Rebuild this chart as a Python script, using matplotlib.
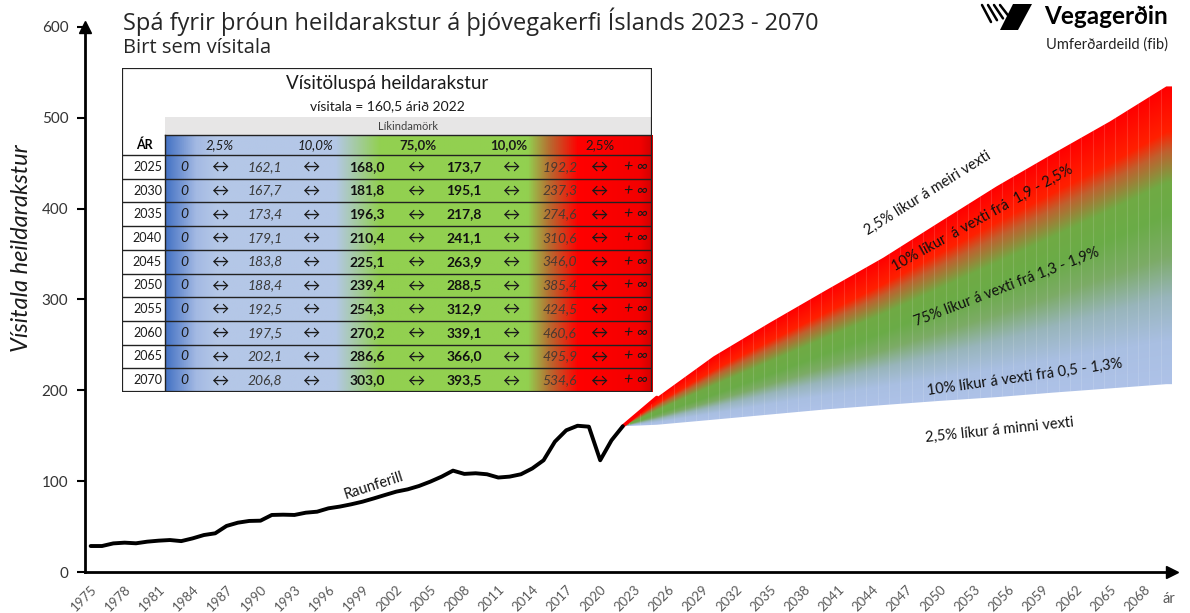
import numpy as np
import matplotlib
matplotlib.use('Agg')
import matplotlib.pyplot as plt
from matplotlib.colors import LinearSegmentedColormap, to_rgb
from matplotlib.patches import Rectangle, Polygon

plt.rcParams['font.family'] = ['Lato', 'DejaVu Sans']

# raunferill 1975-2022
hist_years = list(range(1975, 2023))
hist = [28.6, 28.6, 31.5, 32.3, 31.6, 33.4, 34.5, 35.2, 34.0, 37.0,
        40.7, 42.6, 50.7, 54.3, 56.2, 56.5, 62.8, 63.1, 62.8, 65.3,
        66.4, 70.1, 72.0, 74.5, 77.4, 81.0, 84.8, 88.5, 91.0, 94.7,
        99.5, 105.0, 111.6, 108.0, 108.7, 107.6, 104.0, 105.0, 107.6, 114.0,
        123.0, 143.5, 156.0, 161.0, 160.0, 123.0, 145.0, 160.5]

# spá (vísitöluspá heildarakstur)
base_year = 2022
base_val = 160.5
tbl_years = [2025, 2030, 2035, 2040, 2045, 2050, 2055, 2060, 2065, 2070]
q1 = [162.1, 167.7, 173.4, 179.1, 183.8, 188.4, 192.5, 197.5, 202.1, 206.8]
q2 = [168.0, 181.8, 196.3, 210.4, 225.1, 239.4, 254.3, 270.2, 286.6, 303.0]
q3 = [173.7, 195.1, 217.8, 241.1, 263.9, 288.5, 312.9, 339.1, 366.0, 393.5]
q4 = [192.2, 237.3, 274.6, 310.6, 346.0, 385.4, 424.5, 460.6, 495.9, 534.6]
band_labels = ['2,5%', '10,0%', '75,0%', '10,0%', '2,5%']

W, H = 1190, 613
fig = plt.figure(figsize=(W / 100, H / 100), dpi=100)
ax = fig.add_axes([85 / W, 1 - 572 / H, (1172 - 85) / W, (572 - 27) / H])

ax.set_xlim(1974.5, 2070.5)
ax.set_ylim(0, 600)

# --- fan ---
fx = np.array([base_year] + tbl_years + [2070.5])
lo = np.array([base_val] + q1 + [q1[-1]])
m1 = np.array([base_val] + q2 + [q2[-1]])
m2 = np.array([base_val] + q3 + [q3[-1]])
hi = np.array([base_val] + q4 + [q4[-1]])

gx = np.linspace(base_year, 2070.5, 600)
gy = np.linspace(150, 545, 500)
stop_cols = np.array([to_rgb(c) for c in
                      ['#aec2e8', '#a9bfe2', '#98b5bb', '#7cab66', '#6aac47',
                       '#70aa44', '#c0602e', '#ff2000', '#ff0000']])
img = np.ones((len(gy), len(gx), 3))
for j, xv in enumerate(gx):
    a, b, c, d = (np.interp(xv, fx, arr) for arr in (lo, m1, m2, hi))
    stops = np.array([a, a + 0.5 * (b - a), b, b + 0.5 * (c - b), c,
                      c + 0.25 * (d - c), c + 0.5 * (d - c), c + 0.65 * (d - c), d])
    stops = stops + np.arange(len(stops)) * 1e-4
    for k in range(3):
        img[:, j, k] = np.interp(gy, stops, stop_cols[:, k])
fan = Polygon(np.column_stack([np.r_[fx, fx[::-1]], np.r_[hi, lo[::-1]]]),
              closed=True, facecolor='none', edgecolor='none')
ax.add_patch(fan)
im = ax.imshow(img, extent=(gx[0], gx[-1], gy[0], gy[-1]), origin='lower',
               aspect='auto', interpolation='bilinear', zorder=1)
im.set_clip_path(fan)
bars = ax.vlines(np.arange(base_year + 1, 2071) - 0.5, 0, 600, color='white',
                 lw=0.8, alpha=0.13, zorder=2)
bars.set_clip_path(fan)
ax.plot(fx[:2], hi[:2], color='#ff0000', lw=2.5, solid_capstyle='round', zorder=3)

ax.plot(hist_years, hist, color='black', lw=2.8, solid_joinstyle='round',
        solid_capstyle='round', zorder=4)

# --- axes ---
for s in ('top', 'right'):
    ax.spines[s].set_visible(False)
for s in ('left', 'bottom'):
    ax.spines[s].set_linewidth(2)
    ax.spines[s].set_color('black')
ax.set_yticks(range(0, 601, 100))
ax.tick_params(axis='y', length=6, width=1.5, labelsize=11, labelcolor='#333333', pad=6)
xt = list(range(1975, 2069, 3))
ax.set_xticks(xt)
ax.set_xticklabels([str(y) for y in xt], rotation=45, ha='right', va='top',
                   rotation_mode='anchor', fontsize=9.5, color='#595959')
ax.tick_params(axis='x', length=0, pad=8)
ax.plot(0, 1, marker='^', color='black', ms=8, transform=ax.transAxes, clip_on=False)
ax.plot(1, 0, marker='>', color='black', ms=8, transform=ax.transAxes, clip_on=False)
ax.text(2070.2, -22, 'ár', fontsize=10.5, color='#595959', ha='center', va='top')
fig.text(22 / W, 1 - 248 / H, 'Vísitala heildarakstur', rotation=90, style='italic',
         fontsize=17, ha='center', va='center', color='#1a1a1a')

# fan annotations
notes = [
    ('2,5% líkur á meiri vexti', 2048.9, 417, 32),
    ('10% líkur  á vexti frá  1,9 - 2,5%', 2053.8, 390, 29),
    ('75% líkur á vexti frá 1,3 - 1,9%', 2055.9, 314, 21),
    ('10% líkur á vexti frá 0,5 - 1,3%', 2057.5, 214, 8),
    ('2,5% líkur á minni vexti', 2055.3, 156, 6),
    ('Raunferill', 2000.0, 95, 18),
]
for txt, x, y, r in notes:
    ax.text(x, y, txt, rotation=r, ha='center', va='center', fontsize=10.5,
            color='#111111', rotation_mode='anchor', zorder=5)

# --- titles / logo ---
fig.text(123 / W, 1 - 22 / H, 'Spá fyrir þróun heildarakstur á þjóvegakerfi Íslands 2023 - 2070',
         fontsize=17, va='center', ha='left', color='#262626', family=['Open Sans', 'DejaVu Sans'])
fig.text(123 / W, 1 - 48 / H, 'Birt sem vísitala', fontsize=14.5, va='center',
         ha='left', color='#262626', family=['Open Sans', 'DejaVu Sans'])
fig.text(1168 / W, 1 - 17 / H, 'Vegagerðin', fontsize=17.5, fontweight='bold',
         ha='right', va='center', color='black')
fig.text(1168 / W, 1 - 45 / H, 'Umferðardeild (fib)', fontsize=10.5, ha='right',
         va='center', color='#222222')
lax = fig.add_axes([975 / W, 1 - 32 / H, 60 / W, 30 / H])
lax.set_xlim(975, 1035)
lax.set_ylim(32, 2)
lax.axis('off')
lax.add_patch(Polygon([(1013, 4), (1032, 4), (1018, 30), (1000, 30)], closed=True,
                      facecolor='black', edgecolor='none'))
for x0 in (982, 988, 994, 1000):
    lax.plot([x0, x0 + 9], [5, 22 - (x0 - 982) * 0.3], color='black', lw=1.8,
             solid_capstyle='round')

# --- table ---
tax = fig.add_axes([122 / W, 1 - 392 / H, 530 / W, (392 - 68) / H])
tax.set_xlim(122, 652)
tax.set_ylim(392, 68)
tax.axis('off')
tax.add_patch(Rectangle((122, 68), 530, 324, facecolor='white', edgecolor='none', zorder=0))
tbl_cmap = LinearSegmentedColormap.from_list('tbl', [
    (0.0, '#4472c4'), (0.062, '#a3b9e3'), (0.103, '#b4c7e7'), (0.349, '#b4c7e7'),
    (0.441, '#92d050'), (0.745, '#92d050'), (0.79, '#b86a30'), (0.848, '#ff0000'),
    (0.975, '#f40000'), (1.0, '#d00000')])
tax.imshow(np.linspace(0, 1, 256)[None, :], cmap=tbl_cmap, aspect='auto',
           extent=(165, 652, 392, 135), zorder=1)
tax.add_patch(Rectangle((165, 117), 487, 18, facecolor='#e7e6e6', edgecolor='none', zorder=1))
tax.text(387, 84, 'Vísitöluspá heildarakstur', fontsize=13.5, ha='center', va='center', color='#1a1a1a')
tax.text(387, 106, 'vísitala = 160,5 árið 2022', fontsize=10, ha='center', va='center', color='#1a1a1a')
tax.text(408, 126, 'Líkindamörk', fontsize=8, ha='center', va='center', color='#404040')

head_y = 145
row_h = (392 - 155) / len(tbl_years)
tax.text(144, head_y, 'ÁR', fontsize=9, fontweight='bold', ha='center', va='center', zorder=3)
head_x = [220, 316, 418, 509, 600]
head_style = [('italic', 'normal'), ('italic', 'normal'), ('normal', 'bold'),
              ('normal', 'bold'), ('normal', 'normal')]
for x, lab, (st, wt) in zip(head_x, band_labels, head_style):
    tax.text(x, head_y, lab, fontsize=9.5, style=st, fontweight=wt, ha='center',
             va='center', color='#1a1a1a', zorder=3)

col_x = [184, 220, 265, 311, 367, 416, 464, 511, 560, 599, 636]
fmt = lambda v: f'{v:.1f}'.replace('.', ',')
for i, yr in enumerate(tbl_years):
    yc = 155 + (i + 0.5) * row_h
    tax.text(162, yc, str(yr), fontsize=9, ha='right', va='center', color='#1a1a1a', zorder=3)
    cells = [('0', 'italic', 'normal', '#1a1a1a', 10), ('↔', 'normal', 'normal', '#1a1a1a', 12.5),
             (fmt(q1[i]), 'italic', 'normal', '#3a3a3a', 10), ('↔', 'normal', 'normal', '#1a1a1a', 12.5),
             (fmt(q2[i]), 'normal', 'bold', '#111111', 10), ('↔', 'normal', 'normal', '#1a1a1a', 12.5),
             (fmt(q3[i]), 'normal', 'bold', '#111111', 10), ('↔', 'normal', 'normal', '#1a1a1a', 12.5),
             (fmt(q4[i]), 'italic', 'normal', '#4a3a30', 10), ('↔', 'normal', 'normal', '#1a1a1a', 12.5),
             ('+ ∞', 'italic', 'normal', '#1a1a1a', 11.5)]
    for x, (t, st, wt, c, fs) in zip(col_x, cells):
        tax.text(x, yc, t, fontsize=fs, style=st, fontweight=wt, ha='center',
                 va='center', color=c, zorder=3)

for i in range(len(tbl_years) + 1):
    yl = 155 + i * row_h
    tax.plot([122, 652], [yl, yl], color='#222222', lw=1.0, zorder=4)
tax.plot([165, 652], [135, 135], color='#222222', lw=1.0, zorder=4)
tax.plot([165, 165], [135, 392], color='#222222', lw=1.0, zorder=4)
tax.add_patch(Rectangle((122, 68), 530, 324, facecolor='none', edgecolor='#222222',
                        lw=1.6, zorder=5))

fig.savefig('out.png', dpi=100)
